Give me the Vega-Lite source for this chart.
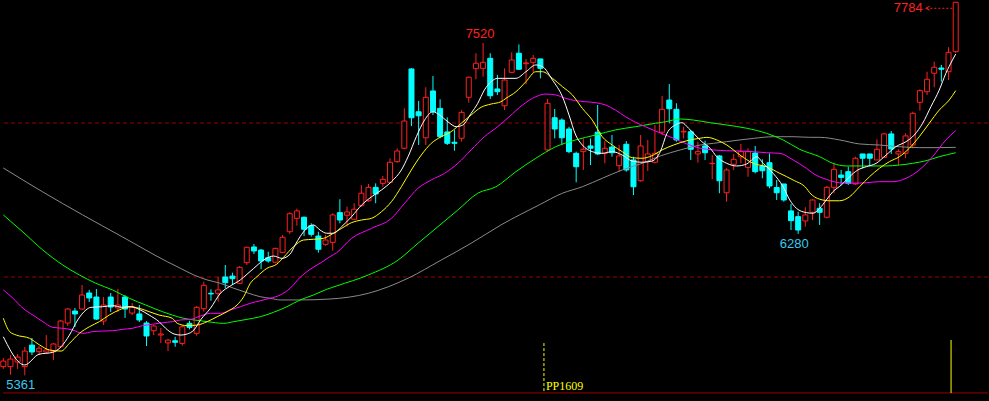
{
"$schema": "https://vega.github.io/schema/vega-lite/v6.json",
"width": 989, "height": 401, "padding": 0,
"autosize": {"type": "fit", "contains": "padding"},
"background": "#000000",
"config": {"view": {"stroke": null}, "scale": {"continuousPadding": 0}},
"datasets": {
"candles": [
{"i":0,"o":5418,"c":5454,"h":5474,"l":5403},{"i":1,"o":5418,"c":5467,"h":5493,"l":5365},{"i":2,"o":5448,"c":5480,"h":5500,"l":5403},{"i":3,"o":5418,"c":5519,"h":5545,"l":5361},{"i":4,"o":5558,"c":5513,"h":5604,"l":5493},{"i":5,"o":5515,"c":5537,"h":5552,"l":5493},{"i":6,"o":5513,"c":5526,"h":5623,"l":5506},{"i":7,"o":5515,"c":5565,"h":5571,"l":5461},{"i":8,"o":5547,"c":5714,"h":5721,"l":5539},{"i":9,"o":5701,"c":5792,"h":5799,"l":5682},
{"i":10,"o":5779,"c":5760,"h":5799,"l":5675},{"i":11,"o":5792,"c":5883,"h":5948,"l":5786},{"i":12,"o":5896,"c":5864,"h":5916,"l":5838},{"i":13,"o":5870,"c":5727,"h":5922,"l":5721},{"i":14,"o":5714,"c":5818,"h":5870,"l":5688},{"i":15,"o":5870,"c":5805,"h":5896,"l":5773},{"i":16,"o":5799,"c":5818,"h":5922,"l":5773},{"i":17,"o":5870,"c":5792,"h":5883,"l":5734},{"i":18,"o":5766,"c":5805,"h":5831,"l":5753},{"i":19,"o":5760,"c":5721,"h":5818,"l":5708},
{"i":20,"o":5701,"c":5617,"h":5714,"l":5552},{"i":21,"o":5651,"c":5682,"h":5688,"l":5623},{"i":22,"o":5623,"c":5630,"h":5669,"l":5571},{"i":23,"o":5572,"c":5590,"h":5598,"l":5519},{"i":24,"o":5586,"c":5576,"h":5612,"l":5547},{"i":25,"o":5569,"c":5677,"h":5688,"l":5554},{"i":26,"o":5699,"c":5673,"h":5716,"l":5660},{"i":27,"o":5634,"c":5803,"h":5812,"l":5619},{"i":28,"o":5794,"c":5946,"h":5970,"l":5775},{"i":29,"o":5894,"c":5890,"h":5920,"l":5846},
{"i":30,"o":5894,"c":5916,"h":6002,"l":5840},{"i":31,"o":6000,"c":5963,"h":6078,"l":5927},{"i":32,"o":6006,"c":5989,"h":6028,"l":5948},{"i":33,"o":5959,"c":6063,"h":6071,"l":5954},{"i":34,"o":6093,"c":6193,"h":6197,"l":6078},{"i":35,"o":6195,"c":6169,"h":6214,"l":6149},{"i":36,"o":6175,"c":6104,"h":6182,"l":6052},{"i":37,"o":6125,"c":6104,"h":6164,"l":6093},{"i":38,"o":6096,"c":6186,"h":6190,"l":6089},{"i":39,"o":6160,"c":6258,"h":6273,"l":6154},
{"i":40,"o":6294,"c":6411,"h":6420,"l":6279},{"i":41,"o":6381,"c":6429,"h":6444,"l":6333},{"i":42,"o":6388,"c":6310,"h":6392,"l":6266},{"i":43,"o":6333,"c":6277,"h":6349,"l":6262},{"i":44,"o":6266,"c":6180,"h":6294,"l":6158},{"i":45,"o":6212,"c":6240,"h":6273,"l":6203},{"i":46,"o":6225,"c":6403,"h":6414,"l":6171},{"i":47,"o":6418,"c":6370,"h":6505,"l":6349},{"i":48,"o":6401,"c":6422,"h":6457,"l":6327},{"i":49,"o":6375,"c":6440,"h":6479,"l":6370},
{"i":50,"o":6463,"c":6544,"h":6597,"l":6457},{"i":51,"o":6495,"c":6582,"h":6604,"l":6489},{"i":52,"o":6582,"c":6539,"h":6608,"l":6479},{"i":53,"o":6608,"c":6634,"h":6656,"l":6586},{"i":54,"o":6615,"c":6745,"h":6771,"l":6608},{"i":55,"o":6749,"c":6818,"h":6836,"l":6742},{"i":56,"o":6836,"c":7013,"h":7095,"l":6829},{"i":57,"o":7351,"c":7034,"h":7355,"l":6980},{"i":58,"o":7073,"c":7047,"h":7143,"l":6857},{"i":59,"o":6904,"c":7167,"h":7232,"l":6857},
{"i":60,"o":7208,"c":7073,"h":7305,"l":7052},{"i":61,"o":7095,"c":6911,"h":7154,"l":6901},{"i":62,"o":6942,"c":6868,"h":7037,"l":6857},{"i":63,"o":6875,"c":6868,"h":6954,"l":6820},{"i":64,"o":6901,"c":7069,"h":7084,"l":6879},{"i":65,"o":7167,"c":7297,"h":7301,"l":7132},{"i":66,"o":7353,"c":7388,"h":7453,"l":7284},{"i":67,"o":7355,"c":7394,"h":7520,"l":7301},{"i":68,"o":7420,"c":7177,"h":7453,"l":7156},{"i":69,"o":7221,"c":7203,"h":7312,"l":7182},
{"i":70,"o":7112,"c":7279,"h":7355,"l":7084},{"i":71,"o":7329,"c":7409,"h":7459,"l":7323},{"i":72,"o":7453,"c":7349,"h":7510,"l":7344},{"i":73,"o":7385,"c":7390,"h":7416,"l":7251},{"i":74,"o":7394,"c":7420,"h":7442,"l":7327},{"i":75,"o":7416,"c":7355,"h":7416,"l":7290},{"i":76,"o":6825,"c":7128,"h":7156,"l":6814},{"i":77,"o":7034,"c":6961,"h":7091,"l":6900},{"i":78,"o":7019,"c":6904,"h":7030,"l":6857},{"i":79,"o":6961,"c":6814,"h":6976,"l":6803},
{"i":80,"o":6803,"c":6716,"h":6814,"l":6615},{"i":81,"o":6814,"c":6829,"h":6900,"l":6695},{"i":82,"o":6851,"c":6836,"h":6900,"l":6727},{"i":83,"o":6940,"c":6799,"h":7117,"l":6792},{"i":84,"o":6803,"c":6836,"h":6883,"l":6738},{"i":85,"o":6844,"c":6807,"h":6922,"l":6781},{"i":86,"o":6723,"c":6786,"h":6857,"l":6684},{"i":87,"o":6862,"c":6695,"h":6883,"l":6684},{"i":88,"o":6760,"c":6586,"h":6781,"l":6532},{"i":89,"o":6625,"c":6851,"h":6922,"l":6619},
{"i":90,"o":6749,"c":6799,"h":6890,"l":6688},{"i":91,"o":6745,"c":6803,"h":6987,"l":6738},{"i":92,"o":6940,"c":7089,"h":7175,"l":6922},{"i":93,"o":7149,"c":7093,"h":7253,"l":6998},{"i":94,"o":7089,"c":6890,"h":7128,"l":6879},{"i":95,"o":6942,"c":6946,"h":6976,"l":6900},{"i":96,"o":6943,"c":6829,"h":6954,"l":6760},{"i":97,"o":6799,"c":6814,"h":6879,"l":6742},{"i":98,"o":6851,"c":6807,"h":6885,"l":6760},{"i":99,"o":6736,"c":6738,"h":6792,"l":6634},
{"i":100,"o":6786,"c":6625,"h":6792,"l":6544},{"i":101,"o":6547,"c":6695,"h":6706,"l":6489},{"i":102,"o":6732,"c":6764,"h":6799,"l":6695},{"i":103,"o":6781,"c":6814,"h":6864,"l":6738},{"i":104,"o":6712,"c":6814,"h":6836,"l":6651},{"i":105,"o":6805,"c":6684,"h":6851,"l":6673},{"i":106,"o":6721,"c":6690,"h":6764,"l":6641},{"i":107,"o":6742,"c":6591,"h":6803,"l":6576},{"i":108,"o":6581,"c":6547,"h":6630,"l":6500},{"i":109,"o":6604,"c":6500,"h":6604,"l":6489},
{"i":110,"o":6429,"c":6366,"h":6474,"l":6305},{"i":111,"o":6392,"c":6305,"h":6424,"l":6280},{"i":112,"o":6364,"c":6403,"h":6453,"l":6327},{"i":113,"o":6420,"c":6500,"h":6505,"l":6370},{"i":114,"o":6446,"c":6420,"h":6479,"l":6338},{"i":115,"o":6388,"c":6582,"h":6591,"l":6381},{"i":116,"o":6582,"c":6699,"h":6734,"l":6544},{"i":117,"o":6662,"c":6647,"h":6695,"l":6597},{"i":118,"o":6684,"c":6608,"h":6716,"l":6597},{"i":119,"o":6604,"c":6771,"h":6781,"l":6597},
{"i":120,"o":6799,"c":6771,"h":6799,"l":6706},{"i":121,"o":6799,"c":6771,"h":6799,"l":6723},{"i":122,"o":6760,"c":6829,"h":6894,"l":6760},{"i":123,"o":6777,"c":6929,"h":6937,"l":6771},{"i":124,"o":6929,"c":6831,"h":6948,"l":6799},{"i":125,"o":6799,"c":6814,"h":6829,"l":6727},{"i":126,"o":6803,"c":6916,"h":6933,"l":6771},{"i":127,"o":6857,"c":7063,"h":7073,"l":6836},{"i":128,"o":7134,"c":7210,"h":7219,"l":7080},{"i":129,"o":7203,"c":7284,"h":7333,"l":7182},
{"i":130,"o":7323,"c":7362,"h":7398,"l":7232},{"i":131,"o":7357,"c":7349,"h":7377,"l":7268},{"i":132,"o":7333,"c":7459,"h":7492,"l":7279},{"i":133,"o":7463,"c":7784,"h":7784,"l":7455}
],
"ma": [
{"m":"MA60","i":0,"p":6708},{"m":"MA60","i":5.52,"p":6552},{"m":"MA60","i":11.09,"p":6403},{"m":"MA60","i":16.65,"p":6260},{"m":"MA60","i":22.91,"p":6099},{"m":"MA60","i":24.76,"p":6056},{"m":"MA60","i":26.62,"p":6013},{"m":"MA60","i":28.47,"p":5981},{"m":"MA60","i":30.32,"p":5959},{"m":"MA60","i":32.18,"p":5927},{"m":"MA60","i":34.03,"p":5898},{"m":"MA60","i":35.88,"p":5872},{"m":"MA60","i":37.27,"p":5862},{"m":"MA60","i":38.67,"p":5851},{"m":"MA60","i":41.45,"p":5851},{"m":"MA60","i":45.62,"p":5857},{"m":"MA60","i":50.96,"p":5894},{"m":"MA60","i":56.52,"p":5992},{"m":"MA60","i":61.15,"p":6110},{"m":"MA60","i":65.33,"p":6219},{"m":"MA60","i":69.5,"p":6338},{"m":"MA60","i":74.83,"p":6468},{"m":"MA60","i":78.08,"p":6544},{"m":"MA60","i":80.86,"p":6586},{"m":"MA60","i":83.64,"p":6641},{"m":"MA60","i":86.43,"p":6695},{"m":"MA60","i":89.21,"p":6738},{"m":"MA60","i":91.75,"p":6786},{"m":"MA60","i":94.53,"p":6825},{"m":"MA60","i":97.32,"p":6857},{"m":"MA60","i":99.17,"p":6868},{"m":"MA60","i":101.03,"p":6879},{"m":"MA60","i":104.73,"p":6900},{"m":"MA60","i":107.51,"p":6911},{"m":"MA60","i":110.29,"p":6911},{"m":"MA60","i":112.62,"p":6907},{"m":"MA60","i":114.01,"p":6907},{"m":"MA60","i":116.79,"p":6890},{"m":"MA60","i":119.57,"p":6864},{"m":"MA60","i":122.35,"p":6857},{"m":"MA60","i":125.13,"p":6846},{"m":"MA60","i":127.91,"p":6840},{"m":"MA60","i":130.7,"p":6840},{"m":"MA60","i":133,"p":6842},
{"m":"MA40","i":0,"p":6403},{"m":"MA40","i":2.74,"p":6292},{"m":"MA40","i":5.52,"p":6175},{"m":"MA40","i":8.3,"p":6078},{"m":"MA40","i":10.63,"p":6013},{"m":"MA40","i":12.93,"p":5959},{"m":"MA40","i":15.26,"p":5916},{"m":"MA40","i":17.58,"p":5862},{"m":"MA40","i":19.89,"p":5818},{"m":"MA40","i":22.21,"p":5775},{"m":"MA40","i":23.6,"p":5753},{"m":"MA40","i":24.99,"p":5734},{"m":"MA40","i":26.62,"p":5721},{"m":"MA40","i":28.47,"p":5710},{"m":"MA40","i":30.79,"p":5699},{"m":"MA40","i":32.18,"p":5710},{"m":"MA40","i":34.03,"p":5725},{"m":"MA40","i":35.88,"p":5742},{"m":"MA40","i":37.75,"p":5771},{"m":"MA40","i":39.6,"p":5807},{"m":"MA40","i":41.45,"p":5851},{"m":"MA40","i":43.31,"p":5883},{"m":"MA40","i":45.16,"p":5920},{"m":"MA40","i":46.55,"p":5942},{"m":"MA40","i":50.96,"p":6013},{"m":"MA40","i":55.13,"p":6110},{"m":"MA40","i":57.91,"p":6219},{"m":"MA40","i":60.7,"p":6327},{"m":"MA40","i":63.48,"p":6435},{"m":"MA40","i":66.26,"p":6544},{"m":"MA40","i":68.8,"p":6586},{"m":"MA40","i":71.58,"p":6684},{"m":"MA40","i":74.37,"p":6771},{"m":"MA40","i":77.15,"p":6846},{"m":"MA40","i":79.93,"p":6890},{"m":"MA40","i":82.71,"p":6922},{"m":"MA40","i":85.49,"p":6955},{"m":"MA40","i":88.27,"p":6976},{"m":"MA40","i":91.06,"p":6998},{"m":"MA40","i":92.45,"p":7008},{"m":"MA40","i":94.53,"p":7026},{"m":"MA40","i":96.39,"p":7019},{"m":"MA40","i":98.71,"p":7002},{"m":"MA40","i":101.03,"p":6987},{"m":"MA40","i":103.81,"p":6966},{"m":"MA40","i":106.59,"p":6933},{"m":"MA40","i":108.9,"p":6890},{"m":"MA40","i":111.22,"p":6829},{"m":"MA40","i":114.01,"p":6781},{"m":"MA40","i":115.86,"p":6738},{"m":"MA40","i":117.72,"p":6721},{"m":"MA40","i":120.5,"p":6721},{"m":"MA40","i":123.28,"p":6721},{"m":"MA40","i":125.13,"p":6727},{"m":"MA40","i":126.98,"p":6738},{"m":"MA40","i":128.85,"p":6755},{"m":"MA40","i":130.7,"p":6781},{"m":"MA40","i":133,"p":6807},
{"m":"MA20","i":0,"p":5916},{"m":"MA20","i":1.35,"p":5862},{"m":"MA20","i":2.74,"p":5797},{"m":"MA20","i":4.13,"p":5753},{"m":"MA20","i":5.52,"p":5710},{"m":"MA20","i":6.91,"p":5673},{"m":"MA20","i":8.3,"p":5667},{"m":"MA20","i":9.69,"p":5656},{"m":"MA20","i":11.09,"p":5634},{"m":"MA20","i":12.48,"p":5645},{"m":"MA20","i":13.87,"p":5649},{"m":"MA20","i":15.26,"p":5651},{"m":"MA20","i":16.65,"p":5660},{"m":"MA20","i":18.04,"p":5667},{"m":"MA20","i":19.43,"p":5684},{"m":"MA20","i":20.82,"p":5693},{"m":"MA20","i":22.21,"p":5703},{"m":"MA20","i":23.6,"p":5710},{"m":"MA20","i":24.76,"p":5721},{"m":"MA20","i":26.15,"p":5725},{"m":"MA20","i":27.54,"p":5747},{"m":"MA20","i":28.93,"p":5764},{"m":"MA20","i":30.32,"p":5764},{"m":"MA20","i":31.71,"p":5786},{"m":"MA20","i":33.1,"p":5807},{"m":"MA20","i":34.49,"p":5829},{"m":"MA20","i":35.88,"p":5846},{"m":"MA20","i":37.27,"p":5862},{"m":"MA20","i":38.67,"p":5883},{"m":"MA20","i":40.06,"p":5927},{"m":"MA20","i":41.45,"p":5998},{"m":"MA20","i":42.84,"p":6050},{"m":"MA20","i":44.23,"p":6089},{"m":"MA20","i":45.62,"p":6132},{"m":"MA20","i":46.55,"p":6158},{"m":"MA20","i":48.64,"p":6251},{"m":"MA20","i":51.42,"p":6316},{"m":"MA20","i":54.2,"p":6381},{"m":"MA20","i":56.05,"p":6479},{"m":"MA20","i":57.91,"p":6576},{"m":"MA20","i":59.76,"p":6630},{"m":"MA20","i":61.61,"p":6673},{"m":"MA20","i":63.48,"p":6738},{"m":"MA20","i":65.33,"p":6825},{"m":"MA20","i":67.18,"p":6911},{"m":"MA20","i":69.04,"p":6976},{"m":"MA20","i":70.65,"p":7041},{"m":"MA20","i":72.51,"p":7117},{"m":"MA20","i":74.37,"p":7171},{"m":"MA20","i":75.76,"p":7188},{"m":"MA20","i":77.15,"p":7182},{"m":"MA20","i":78.54,"p":7160},{"m":"MA20","i":79.93,"p":7145},{"m":"MA20","i":81.32,"p":7138},{"m":"MA20","i":82.71,"p":7132},{"m":"MA20","i":84.1,"p":7117},{"m":"MA20","i":85.49,"p":7084},{"m":"MA20","i":86.88,"p":7041},{"m":"MA20","i":88.27,"p":7005},{"m":"MA20","i":89.67,"p":6976},{"m":"MA20","i":91.06,"p":6948},{"m":"MA20","i":92.45,"p":6922},{"m":"MA20","i":93.6,"p":6901},{"m":"MA20","i":95.46,"p":6864},{"m":"MA20","i":97.32,"p":6836},{"m":"MA20","i":99.17,"p":6825},{"m":"MA20","i":101.03,"p":6820},{"m":"MA20","i":102.88,"p":6818},{"m":"MA20","i":104.73,"p":6814},{"m":"MA20","i":106.59,"p":6807},{"m":"MA20","i":108.44,"p":6803},{"m":"MA20","i":110.29,"p":6760},{"m":"MA20","i":112.15,"p":6706},{"m":"MA20","i":113.08,"p":6673},{"m":"MA20","i":114.94,"p":6634},{"m":"MA20","i":116.79,"p":6612},{"m":"MA20","i":118.64,"p":6609},{"m":"MA20","i":120.5,"p":6612},{"m":"MA20","i":122.35,"p":6619},{"m":"MA20","i":124.2,"p":6619},{"m":"MA20","i":126.07,"p":6641},{"m":"MA20","i":127.91,"p":6695},{"m":"MA20","i":129.76,"p":6781},{"m":"MA20","i":131.63,"p":6890},{"m":"MA20","i":133,"p":6950},
{"m":"MA10","i":0,"p":5732},{"m":"MA10","i":0.89,"p":5645},{"m":"MA10","i":1.81,"p":5623},{"m":"MA10","i":3.67,"p":5602},{"m":"MA10","i":5.06,"p":5559},{"m":"MA10","i":6.45,"p":5526},{"m":"MA10","i":8.07,"p":5519},{"m":"MA10","i":9.24,"p":5569},{"m":"MA10","i":10.63,"p":5634},{"m":"MA10","i":12.02,"p":5677},{"m":"MA10","i":13.41,"p":5710},{"m":"MA10","i":14.8,"p":5753},{"m":"MA10","i":16.19,"p":5786},{"m":"MA10","i":17.58,"p":5807},{"m":"MA10","i":18.97,"p":5797},{"m":"MA10","i":20.36,"p":5775},{"m":"MA10","i":21.75,"p":5753},{"m":"MA10","i":23.6,"p":5732},{"m":"MA10","i":24.3,"p":5699},{"m":"MA10","i":25.69,"p":5684},{"m":"MA10","i":27.08,"p":5688},{"m":"MA10","i":28.47,"p":5710},{"m":"MA10","i":29.86,"p":5742},{"m":"MA10","i":31.25,"p":5775},{"m":"MA10","i":32.64,"p":5818},{"m":"MA10","i":33.57,"p":5872},{"m":"MA10","i":34.49,"p":5959},{"m":"MA10","i":35.42,"p":6002},{"m":"MA10","i":36.81,"p":6056},{"m":"MA10","i":38.21,"p":6084},{"m":"MA10","i":39.14,"p":6128},{"m":"MA10","i":40.53,"p":6197},{"m":"MA10","i":41.92,"p":6240},{"m":"MA10","i":43.31,"p":6245},{"m":"MA10","i":44.7,"p":6251},{"m":"MA10","i":46.09,"p":6284},{"m":"MA10","i":47.25,"p":6316},{"m":"MA10","i":48.64,"p":6353},{"m":"MA10","i":50.03,"p":6370},{"m":"MA10","i":51.42,"p":6381},{"m":"MA10","i":52.81,"p":6424},{"m":"MA10","i":54.2,"p":6489},{"m":"MA10","i":55.59,"p":6586},{"m":"MA10","i":56.98,"p":6695},{"m":"MA10","i":58.37,"p":6792},{"m":"MA10","i":59.76,"p":6868},{"m":"MA10","i":61.15,"p":6911},{"m":"MA10","i":62.55,"p":6944},{"m":"MA10","i":63.94,"p":6998},{"m":"MA10","i":65.33,"p":7052},{"m":"MA10","i":66.72,"p":7102},{"m":"MA10","i":68.11,"p":7123},{"m":"MA10","i":69.5,"p":7138},{"m":"MA10","i":70.19,"p":7160},{"m":"MA10","i":71.59,"p":7203},{"m":"MA10","i":72.98,"p":7268},{"m":"MA10","i":74.37,"p":7333},{"m":"MA10","i":75.3,"p":7333},{"m":"MA10","i":76.69,"p":7290},{"m":"MA10","i":78.08,"p":7236},{"m":"MA10","i":79.47,"p":7182},{"m":"MA10","i":80.86,"p":7095},{"m":"MA10","i":82.25,"p":7019},{"m":"MA10","i":83.64,"p":6911},{"m":"MA10","i":85.03,"p":6857},{"m":"MA10","i":86.43,"p":6814},{"m":"MA10","i":87.82,"p":6775},{"m":"MA10","i":89.21,"p":6771},{"m":"MA10","i":90.6,"p":6788},{"m":"MA10","i":91.99,"p":6825},{"m":"MA10","i":93.6,"p":6857},{"m":"MA10","i":95.46,"p":6885},{"m":"MA10","i":97.32,"p":6901},{"m":"MA10","i":98.25,"p":6907},{"m":"MA10","i":99.64,"p":6890},{"m":"MA10","i":101.03,"p":6857},{"m":"MA10","i":102.88,"p":6792},{"m":"MA10","i":104.73,"p":6738},{"m":"MA10","i":106.59,"p":6716},{"m":"MA10","i":108.44,"p":6673},{"m":"MA10","i":110.29,"p":6630},{"m":"MA10","i":112.15,"p":6576},{"m":"MA10","i":112.62,"p":6547},{"m":"MA10","i":114.01,"p":6505},{"m":"MA10","i":115.4,"p":6495},{"m":"MA10","i":116.79,"p":6495},{"m":"MA10","i":118.18,"p":6521},{"m":"MA10","i":119.57,"p":6586},{"m":"MA10","i":120.96,"p":6651},{"m":"MA10","i":122.35,"p":6706},{"m":"MA10","i":123.74,"p":6749},{"m":"MA10","i":125.13,"p":6781},{"m":"MA10","i":126.52,"p":6836},{"m":"MA10","i":127.91,"p":6911},{"m":"MA10","i":129.3,"p":6998},{"m":"MA10","i":130.7,"p":7084},{"m":"MA10","i":132.09,"p":7149},{"m":"MA10","i":133,"p":7210},
{"m":"MA5","i":0,"p":5612},{"m":"MA5","i":2.98,"p":5429},{"m":"MA5","i":4.97,"p":5498},{"m":"MA5","i":6.91,"p":5511},{"m":"MA5","i":8.07,"p":5547},{"m":"MA5","i":9.24,"p":5623},{"m":"MA5","i":10.39,"p":5721},{"m":"MA5","i":11.54,"p":5786},{"m":"MA5","i":12.24,"p":5803},{"m":"MA5","i":13.87,"p":5807},{"m":"MA5","i":15.26,"p":5814},{"m":"MA5","i":16.65,"p":5803},{"m":"MA5","i":17.8,"p":5807},{"m":"MA5","i":18.97,"p":5790},{"m":"MA5","i":20.36,"p":5753},{"m":"MA5","i":21.75,"p":5710},{"m":"MA5","i":22.67,"p":5667},{"m":"MA5","i":23.84,"p":5630},{"m":"MA5","i":24.76,"p":5623},{"m":"MA5","i":25.69,"p":5630},{"m":"MA5","i":26.62,"p":5656},{"m":"MA5","i":27.54,"p":5721},{"m":"MA5","i":28.93,"p":5797},{"m":"MA5","i":30.32,"p":5894},{"m":"MA5","i":31.71,"p":5942},{"m":"MA5","i":33.1,"p":5981},{"m":"MA5","i":34.03,"p":6018},{"m":"MA5","i":34.97,"p":6056},{"m":"MA5","i":36.36,"p":6110},{"m":"MA5","i":37.75,"p":6136},{"m":"MA5","i":38.9,"p":6121},{"m":"MA5","i":40.06,"p":6149},{"m":"MA5","i":40.75,"p":6208},{"m":"MA5","i":41.45,"p":6262},{"m":"MA5","i":42.38,"p":6316},{"m":"MA5","i":43.31,"p":6338},{"m":"MA5","i":44.23,"p":6305},{"m":"MA5","i":45.16,"p":6284},{"m":"MA5","i":46.09,"p":6284},{"m":"MA5","i":47.25,"p":6327},{"m":"MA5","i":48.64,"p":6392},{"m":"MA5","i":50.03,"p":6467},{"m":"MA5","i":51.42,"p":6521},{"m":"MA5","i":52.81,"p":6565},{"m":"MA5","i":54.2,"p":6619},{"m":"MA5","i":55.59,"p":6695},{"m":"MA5","i":56.52,"p":6781},{"m":"MA5","i":57.68,"p":6911},{"m":"MA5","i":58.83,"p":7019},{"m":"MA5","i":59.99,"p":7073},{"m":"MA5","i":60.92,"p":7052},{"m":"MA5","i":62.09,"p":7008},{"m":"MA5","i":63.24,"p":6976},{"m":"MA5","i":64.17,"p":6987},{"m":"MA5","i":65.33,"p":7063},{"m":"MA5","i":66.26,"p":7128},{"m":"MA5","i":67.18,"p":7214},{"m":"MA5","i":68.11,"p":7268},{"m":"MA5","i":69.04,"p":7290},{"m":"MA5","i":71.58,"p":7290},{"m":"MA5","i":72.98,"p":7333},{"m":"MA5","i":74.37,"p":7377},{"m":"MA5","i":75.3,"p":7366},{"m":"MA5","i":76.69,"p":7279},{"m":"MA5","i":78.08,"p":7171},{"m":"MA5","i":79,"p":7052},{"m":"MA5","i":79.93,"p":6922},{"m":"MA5","i":80.86,"p":6857},{"m":"MA5","i":82.25,"p":6814},{"m":"MA5","i":83.64,"p":6803},{"m":"MA5","i":85.03,"p":6814},{"m":"MA5","i":86.43,"p":6792},{"m":"MA5","i":87.82,"p":6753},{"m":"MA5","i":89.21,"p":6745},{"m":"MA5","i":90.6,"p":6753},{"m":"MA5","i":91.75,"p":6814},{"m":"MA5","i":92.68,"p":6933},{"m":"MA5","i":93.84,"p":6987},{"m":"MA5","i":94.77,"p":7002},{"m":"MA5","i":95.69,"p":6966},{"m":"MA5","i":96.62,"p":6922},{"m":"MA5","i":97.55,"p":6879},{"m":"MA5","i":98.71,"p":6836},{"m":"MA5","i":99.64,"p":6781},{"m":"MA5","i":101.03,"p":6738},{"m":"MA5","i":102.42,"p":6721},{"m":"MA5","i":103.81,"p":6734},{"m":"MA5","i":105.2,"p":6781},{"m":"MA5","i":106.12,"p":6738},{"m":"MA5","i":107.51,"p":6673},{"m":"MA5","i":108.9,"p":6586},{"m":"MA5","i":109.83,"p":6500},{"m":"MA5","i":110.76,"p":6446},{"m":"MA5","i":112.15,"p":6418},{"m":"MA5","i":113.08,"p":6414},{"m":"MA5","i":114,"p":6446},{"m":"MA5","i":114.93,"p":6500},{"m":"MA5","i":115.85,"p":6554},{"m":"MA5","i":117.02,"p":6597},{"m":"MA5","i":118.18,"p":6651},{"m":"MA5","i":119.33,"p":6695},{"m":"MA5","i":120.5,"p":6716},{"m":"MA5","i":121.89,"p":6738},{"m":"MA5","i":123.28,"p":6792},{"m":"MA5","i":124.64,"p":6846},{"m":"MA5","i":126.07,"p":6879},{"m":"MA5","i":127.22,"p":6922},{"m":"MA5","i":128.38,"p":6998},{"m":"MA5","i":129.54,"p":7106},{"m":"MA5","i":130.7,"p":7214},{"m":"MA5","i":131.63,"p":7323},{"m":"MA5","i":132.55,"p":7409},{"m":"MA5","i":133,"p":7448}
]
},
"layer": [
{"data": {"values": [{"p": 7000}, {"p": 6000}]},
 "mark": {"type": "rule", "color": "#990000", "strokeWidth": 1, "strokeDash": [4, 3]},
 "encoding": {"y": {"field": "p", "type": "quantitative", "axis": null, "scale": {"domain": [5194.8, 7798.7], "nice": false, "zero": false, "padding": 0}}}},
{"data": {"values": [{"p": 5247}]},
 "mark": {"type": "rule", "color": "#990000", "strokeWidth": 1},
 "encoding": {"y": {"field": "p", "type": "quantitative", "axis": null, "scale": {"domain": [5194.8, 7798.7], "nice": false, "zero": false, "padding": 0}}}},
{"data": {"name": "candles"},
 "mark": {"type": "rule", "strokeWidth": 1},
 "encoding": {
  "x": {"field": "i", "type": "quantitative", "axis": null, "scale": {"domain": [-0.042, 137.51], "nice": false, "zero": false, "padding": 0}},
  "y": {"field": "l", "type": "quantitative", "axis": null, "scale": {"domain": [5194.8, 7798.7], "nice": false, "zero": false, "padding": 0}},
  "y2": {"field": "h"},
  "color": {"condition": {"test": "datum.c >= datum.o", "value": "#ff2020"}, "value": "#00ffff"}}},
{"data": {"name": "candles"},
 "mark": {"type": "bar", "orient": "vertical", "width": 5, "strokeWidth": 1},
 "encoding": {
  "x": {"field": "i", "type": "quantitative", "axis": null, "scale": {"domain": [-0.042, 137.51], "nice": false, "zero": false, "padding": 0}},
  "y": {"field": "o", "type": "quantitative", "axis": null, "scale": {"domain": [5194.8, 7798.7], "nice": false, "zero": false, "padding": 0}},
  "y2": {"field": "c"},
  "fill": {"condition": {"test": "datum.c >= datum.o", "value": "#000000"}, "value": "#00ffff"},
  "stroke": {"condition": {"test": "datum.c >= datum.o", "value": "#ff2020"}, "value": "#00ffff"}}},
{"data": {"name": "ma"},
 "mark": {"type": "line", "strokeWidth": 1, "interpolate": "monotone"},
 "encoding": {
  "x": {"field": "i", "type": "quantitative", "axis": null, "scale": {"domain": [-0.042, 137.51], "nice": false, "zero": false, "padding": 0}},
  "y": {"field": "p", "type": "quantitative", "axis": null, "scale": {"domain": [5194.8, 7798.7], "nice": false, "zero": false, "padding": 0}},
  "color": {"field": "m", "type": "nominal", "legend": null, "scale": {"domain": ["MA60", "MA40", "MA20", "MA10", "MA5"], "range": ["#8a8a8a", "#00ff00", "#ff00ff", "#ffff00", "#ffffff"]}},
  "order": {"field": "i", "type": "quantitative"}}},
{"data": {"values": [{"i": 75.5, "p": 5571, "p2": 5247}]},
 "mark": {"type": "rule", "color": "#ffff00", "strokeWidth": 1, "strokeDash": [3, 2]},
 "encoding": {"x": {"field": "i", "type": "quantitative"}, "y": {"field": "p", "type": "quantitative"}, "y2": {"field": "p2"}}},
{"data": {"values": [{"i": 132.35, "p": 5591, "p2": 5247}]},
 "mark": {"type": "rule", "color": "#ffff00", "strokeWidth": 1},
 "encoding": {"x": {"field": "i", "type": "quantitative"}, "y": {"field": "p", "type": "quantitative"}, "y2": {"field": "p2"}}},
{"data": {"values": [{"t": "PP1609", "i": 75.5, "p": 5294}]},
 "mark": {"type": "text", "color": "#ffff00", "font": "Liberation Serif", "fontSize": 12, "align": "left", "baseline": "middle", "dx": 2},
 "encoding": {"x": {"field": "i", "type": "quantitative"}, "y": {"field": "p", "type": "quantitative"}, "text": {"field": "t"}}},
{"data": {"values": [{"i": 128.9, "i2": 132.6, "p": 7745}]},
 "mark": {"type": "rule", "color": "#ff2020", "strokeWidth": 1, "strokeDash": [2, 2]},
 "encoding": {"x": {"field": "i", "type": "quantitative"}, "x2": {"field": "i2"}, "y": {"field": "p", "type": "quantitative"}}},
{"data": {"values": [{"i": 129.1, "p": 7745}]},
 "mark": {"type": "point", "shape": "M1,-1L-1,0L1,1", "size": 16, "filled": false, "color": "#ff2020", "strokeWidth": 1, "opacity": 1},
 "encoding": {"x": {"field": "i", "type": "quantitative"}, "y": {"field": "p", "type": "quantitative"}}},
{"data": {"values": [{"t": "7784", "i": 133, "p": 7784}]},
 "mark": {"type": "text", "color": "#ff2020", "font": "Liberation Sans", "fontSize": 13, "align": "right", "baseline": "middle", "dx": -33, "dy": 6},
 "encoding": {"x": {"field": "i", "type": "quantitative"}, "y": {"field": "p", "type": "quantitative"}, "text": {"field": "t"}}},
{"data": {"values": [{"t": "7520", "i": 67, "p": 7520}]},
 "mark": {"type": "text", "color": "#ff2020", "font": "Liberation Sans", "fontSize": 13, "align": "center", "baseline": "middle", "dx": -3, "dy": -9},
 "encoding": {"x": {"field": "i", "type": "quantitative"}, "y": {"field": "p", "type": "quantitative"}, "text": {"field": "t"}}},
{"data": {"values": [{"t": "6280", "i": 111, "p": 6280}, {"t": "5361", "i": 3, "p": 5361}]},
 "mark": {"type": "text", "color": "#33ccee", "font": "Liberation Sans", "fontSize": 13, "align": "center", "baseline": "middle", "dx": -4, "dy": 10},
 "encoding": {"x": {"field": "i", "type": "quantitative"}, "y": {"field": "p", "type": "quantitative"}, "text": {"field": "t"}}}
]
}
